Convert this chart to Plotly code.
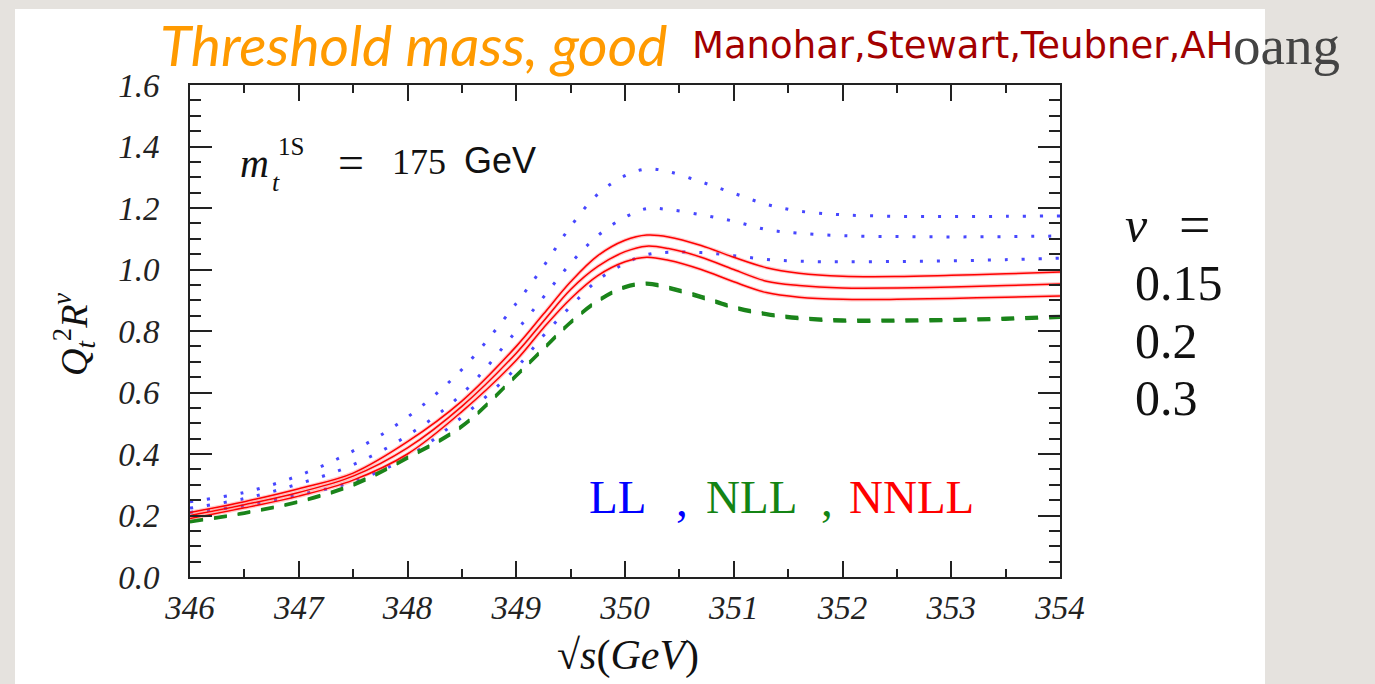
import plotly.graph_objects as go

# sqrt(s) grid in GeV
sqrt_s = [346, 346.5, 347, 347.5, 348, 348.5, 349, 349.25, 349.5, 349.75, 350,
          350.2, 350.4, 350.7, 351, 351.3, 351.6, 352, 352.5, 353, 353.5, 354]

# LL (blue dotted), three renormalization parameters
ll_a = [0.245, 0.275, 0.330, 0.410, 0.520, 0.675, 0.890, 1.010, 1.140, 1.245, 1.305,
        1.327, 1.318, 1.285, 1.248, 1.212, 1.190, 1.178, 1.173, 1.172, 1.173, 1.174]
ll_b = [0.224, 0.255, 0.303, 0.365, 0.460, 0.595, 0.800, 0.910, 1.020, 1.110, 1.170,
        1.198, 1.195, 1.178, 1.157, 1.130, 1.118, 1.110, 1.107, 1.106, 1.107, 1.109]
ll_c = [0.210, 0.232, 0.267, 0.310, 0.390, 0.520, 0.680, 0.785, 0.880, 0.965, 1.020,
        1.048, 1.056, 1.055, 1.045, 1.033, 1.027, 1.025, 1.026, 1.028, 1.032, 1.037]

# NLL (green dashed)
nll_a = [0.183, 0.211, 0.248, 0.304, 0.392, 0.494, 0.659, 0.746, 0.832, 0.902, 0.947,
         0.958, 0.945, 0.915, 0.881, 0.859, 0.846, 0.838, 0.838, 0.840, 0.844, 0.850]
nll_b = [0.180, 0.208, 0.245, 0.300, 0.388, 0.490, 0.655, 0.742, 0.828, 0.898, 0.943,
         0.954, 0.940, 0.910, 0.877, 0.855, 0.842, 0.834, 0.834, 0.836, 0.840, 0.846]
nll_c = [0.177, 0.205, 0.242, 0.296, 0.384, 0.486, 0.651, 0.738, 0.824, 0.894, 0.939,
         0.950, 0.936, 0.906, 0.873, 0.851, 0.838, 0.830, 0.830, 0.832, 0.836, 0.842]

# NNLL (red solid)
nnll_a = [0.210, 0.245, 0.287, 0.338, 0.440, 0.572, 0.750, 0.855, 0.960, 1.045, 1.095,
          1.112, 1.106, 1.078, 1.040, 1.006, 0.988, 0.978, 0.977, 0.981, 0.986, 0.992]
nnll_b = [0.200, 0.235, 0.275, 0.328, 0.420, 0.555, 0.728, 0.832, 0.935, 1.010, 1.058,
          1.076, 1.068, 1.040, 1.000, 0.962, 0.948, 0.940, 0.940, 0.943, 0.948, 0.953]
nnll_c = [0.190, 0.225, 0.263, 0.315, 0.400, 0.538, 0.705, 0.810, 0.905, 0.980, 1.025,
          1.040, 1.030, 1.000, 0.960, 0.925, 0.910, 0.903, 0.903, 0.906, 0.910, 0.914]

x_ticks = [346, 347, 348, 349, 350, 351, 352, 353, 354]
y_ticks = [0.0, 0.2, 0.4, 0.6, 0.8, 1.0, 1.2, 1.4, 1.6]
y_tick_text = ["0.0", "0.2", "0.4", "0.6", "0.8", "1.0", "1.2", "1.4", "1.6"]
nu_values = ["0.15", "0.2", "0.3"]

# plot-area geometry in pixels (canvas 1375 x 684)
W_PX, H_PX = 1375, 684
L, R, T, B = 190, 1060, 85, 577


def px(x):
    return (x - L) / (R - L)


def py(y):
    return (B - y) / (B - T)


fig = go.Figure()

for ys in (ll_a, ll_b, ll_c):
    fig.add_trace(go.Scatter(x=sqrt_s, y=ys, mode="lines", line_shape="spline",
                             line=dict(color="#1a1aff", width=3, dash="3px,14px"),
                             opacity=0.8, hoverinfo="skip", showlegend=False))

for ys in (nll_a, nll_b, nll_c):
    fig.add_trace(go.Scatter(x=sqrt_s, y=ys, mode="lines", line_shape="spline",
                             line=dict(color="#1a841a", width=1.9, dash="13px,11px"),
                             hoverinfo="skip", showlegend=False))

for ys in (nnll_a, nnll_b, nnll_c):
    fig.add_trace(go.Scatter(x=sqrt_s, y=ys, mode="lines", line_shape="spline",
                             line=dict(color="rgba(255,80,80,0.30)", width=3.8),
                             hoverinfo="skip", showlegend=False))
    fig.add_trace(go.Scatter(x=sqrt_s, y=ys, mode="lines", line_shape="spline",
                             line=dict(color="#ff0000", width=1.5),
                             hoverinfo="skip", showlegend=False))

tick_font = dict(family="Liberation Serif", size=33, color="#222222", style="italic")

fig.update_xaxes(range=[346, 354], tickvals=x_ticks, ticktext=[str(v) for v in x_ticks],
                 showgrid=False, zeroline=False, showline=True, linewidth=2,
                 linecolor="#222222", mirror="allticks", ticks="inside", ticklen=16,
                 tickwidth=2, tickcolor="#222222", tickfont=tick_font,
                 ticklabelstandoff=0,
                 minor=dict(dtick=0.5, ticks="inside", ticklen=8, tickwidth=1.6,
                            tickcolor="#222222", showgrid=False))
fig.update_yaxes(range=[0, 1.6], tickvals=y_ticks, ticktext=y_tick_text,
                 showgrid=False, zeroline=False, showline=True, linewidth=2,
                 linecolor="#222222", mirror="allticks", ticks="inside", ticklen=22,
                 tickwidth=2, tickcolor="#222222", tickfont=tick_font,
                 ticklabelstandoff=22,
                 minor=dict(dtick=0.05, ticks="inside", ticklen=11, tickwidth=1.6,
                            tickcolor="#222222", showgrid=False))

annotations = []


def note(text, x, y, size, color="#111111", family="Liberation Serif", style="normal",
         xanchor="center", yanchor="middle", angle=0):
    annotations.append(dict(text=text, x=px(x), y=py(y), xref="paper", yref="paper",
                            showarrow=False, xanchor=xanchor, yanchor=yanchor,
                            textangle=angle,
                            font=dict(family=family, size=size, color=color, style=style)))


# slide heading
note("Threshold mass, good", 158, 44, 57, color="#ff9a00", family="Lato",
     style="italic", xanchor="left")
note("Manohar,Stewart,Teubner,AH", 690, 45, 37, color="#a30000",
     family="DejaVu Sans", xanchor="left")
note("oang", 1231, 46, 55, color="#444444", family="Liberation Serif", xanchor="left")

# mass label inside the frame
note("m", 254, 163, 40, style="italic")
note("1S", 291, 146, 25)
note("t", 276, 182, 26, style="italic")
note("=", 351, 162, 46)
note("175", 419, 162, 36)
note("GeV", 500, 160, 36, family="Liberation Sans")

# order legend
note("LL", 587, 497, 47, color="#0000ff", xanchor="left")
note(",", 682, 500, 47, color="#0000ff")
note("NLL", 704, 497, 47, color="#148414", xanchor="left")
note(",", 827, 500, 47, color="#148414")
note("NNLL", 847, 497, 47, color="#ff0000", xanchor="left")

# parameter column on the right
note("<i>ν</i>", 1136, 225, 50, xanchor="center")
note("=", 1195, 225, 56, xanchor="center")
for label, yy in zip(nu_values, [283, 341, 398]):
    note(label, 1133, yy, 50, xanchor="left")

# axis titles
note("√<i>s</i>(<i>GeV</i>)", 628, 655, 42)
note("<i>Q</i><sub><i>t</i></sub><sup>2</sup><i>R</i><sup><i>v</i></sup>", 74, 335, 38,
     angle=-90)

# white slide panel on the grey backdrop
shapes = [dict(type="rect", xref="paper", yref="paper", layer="below",
               x0=px(15), x1=px(1265), y0=py(W_PX + 10), y1=py(9),
               fillcolor="#ffffff", line=dict(width=0))]

fig.update_layout(width=W_PX, height=H_PX,
                  margin=dict(l=L, r=W_PX - R, t=T, b=H_PX - B, pad=0),
                  paper_bgcolor="#e5e2de", plot_bgcolor="rgba(0,0,0,0)",
                  annotations=annotations, shapes=shapes, showlegend=False)

fig.write_html("out.html")
